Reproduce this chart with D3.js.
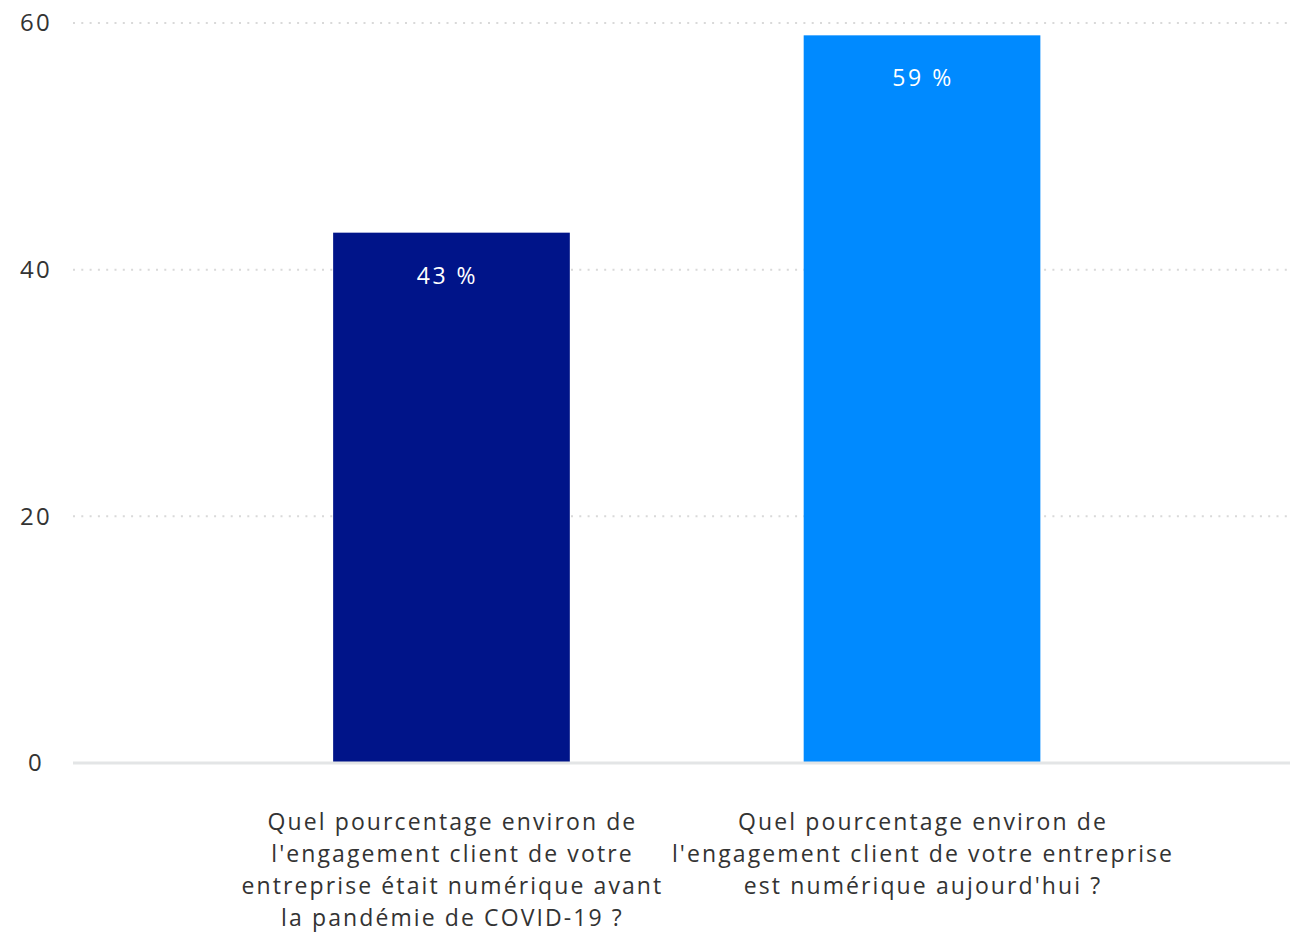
<!DOCTYPE html>
<html>
<head>
<meta charset="utf-8">
<script src="https://cdn.jsdelivr.net/npm/d3@7"></script>
<style>
  html, body { margin: 0; padding: 0; background: #fff; }
  svg { display: block; }
  text { font-family: "Open Sans", Lato, sans-serif; }
</style>
</head>
<body>
<svg id="chart" width="1290" height="932"></svg>
<script>
// Survey questions (one per bar) and their shares in percent
const categories = [
  "Quel pourcentage environ de l'engagement client de votre entreprise était numérique avant la pandémie de COVID-19 ?",
  "Quel pourcentage environ de l'engagement client de votre entreprise est numérique aujourd'hui ?"
];
const categoryLines = [
  ["Quel pourcentage environ de", "l'engagement client de votre", "entreprise était numérique avant", "la pandémie de COVID-19 ?"],
  ["Quel pourcentage environ de", "l'engagement client de votre entreprise", "est numérique aujourd'hui ?"]
];
const values = [43, 59];
const valueLabels = ["43 %", "59 %"];
const barColors = ["#001489", "#008AFF"];
const yTicks = [0, 20, 40, 60];

const svg = d3.select("#chart");
const plot = { left: 73, right: 1290, top: 23, bottom: 763 };

const y = d3.scaleLinear().domain([0, 60]).range([plot.bottom, plot.top]);
const x = d3.scaleBand()
  .domain(categories)
  .range([215.5, 1158])
  .paddingInner(0.497)
  .paddingOuter(0.25);

// Dotted horizontal gridlines
svg.append("g")
  .selectAll("line")
  .data(yTicks.filter(d => d !== 0))
  .join("line")
  .attr("x1", plot.left)
  .attr("x2", plot.right)
  .attr("y1", d => y(d))
  .attr("y2", d => y(d))
  .attr("stroke", "#d9d9d9")
  .attr("stroke-width", 2)
  .attr("stroke-dasharray", "2,6.3");

// Y axis labels
const yAxis = svg.append("g")
  .attr("transform", "translate(36,0)")
  .call(d3.axisLeft(y).tickValues(yTicks).tickSize(0).tickPadding(0));
yAxis.select(".domain").remove();
yAxis.selectAll("text")
  .attr("text-anchor", "middle")
  .attr("font-size", 24)
  .attr("letter-spacing", "2.2px")
  .attr("fill", "#333")
  .style("font-family", "'Open Sans', Lato, sans-serif");

// Bars
svg.append("g")
  .selectAll("rect")
  .data(categories)
  .join("rect")
  .attr("x", d => x(d))
  .attr("width", x.bandwidth())
  .attr("y", (d, i) => y(values[i]))
  .attr("height", (d, i) => y(0) - y(values[i]))
  .attr("fill", (d, i) => barColors[i]);

// Baseline
svg.append("line")
  .attr("x1", plot.left)
  .attr("x2", plot.right)
  .attr("y1", y(0))
  .attr("y2", y(0))
  .attr("stroke", "#e3e5e6")
  .attr("stroke-width", 3);

// Value labels inside the bars
svg.append("g")
  .selectAll("text")
  .data(categories)
  .join("text")
  .attr("x", (d, i) => x(d) + x.bandwidth() / 2 - (i === 0 ? 5 : 0) + 1)
  .attr("y", (d, i) => y(values[i]) + 51)
  .attr("text-anchor", "middle")
  .attr("font-size", 23)
  .attr("letter-spacing", "2.5px")
  .attr("fill", "#fff")
  .text((d, i) => valueLabels[i]);

// Category labels under the bars
const xAxis = svg.append("g")
  .attr("transform", `translate(0,${plot.bottom})`)
  .call(d3.axisBottom(x).tickSize(0).tickFormat(""));
xAxis.select(".domain").remove();
xAxis.selectAll(".tick").each(function (d, i) {
  const t = d3.select(this).append("text")
    .attr("text-anchor", "middle")
    .attr("font-size", 23)
    .attr("letter-spacing", "2.1px")
    .attr("fill", "#333");
  categoryLines[i].forEach((line, j) => {
    t.append("tspan")
      .attr("x", 1)
      .attr("y", 67 + j * 32)
      .text(line);
  });
});
</script>
</body>
</html>
